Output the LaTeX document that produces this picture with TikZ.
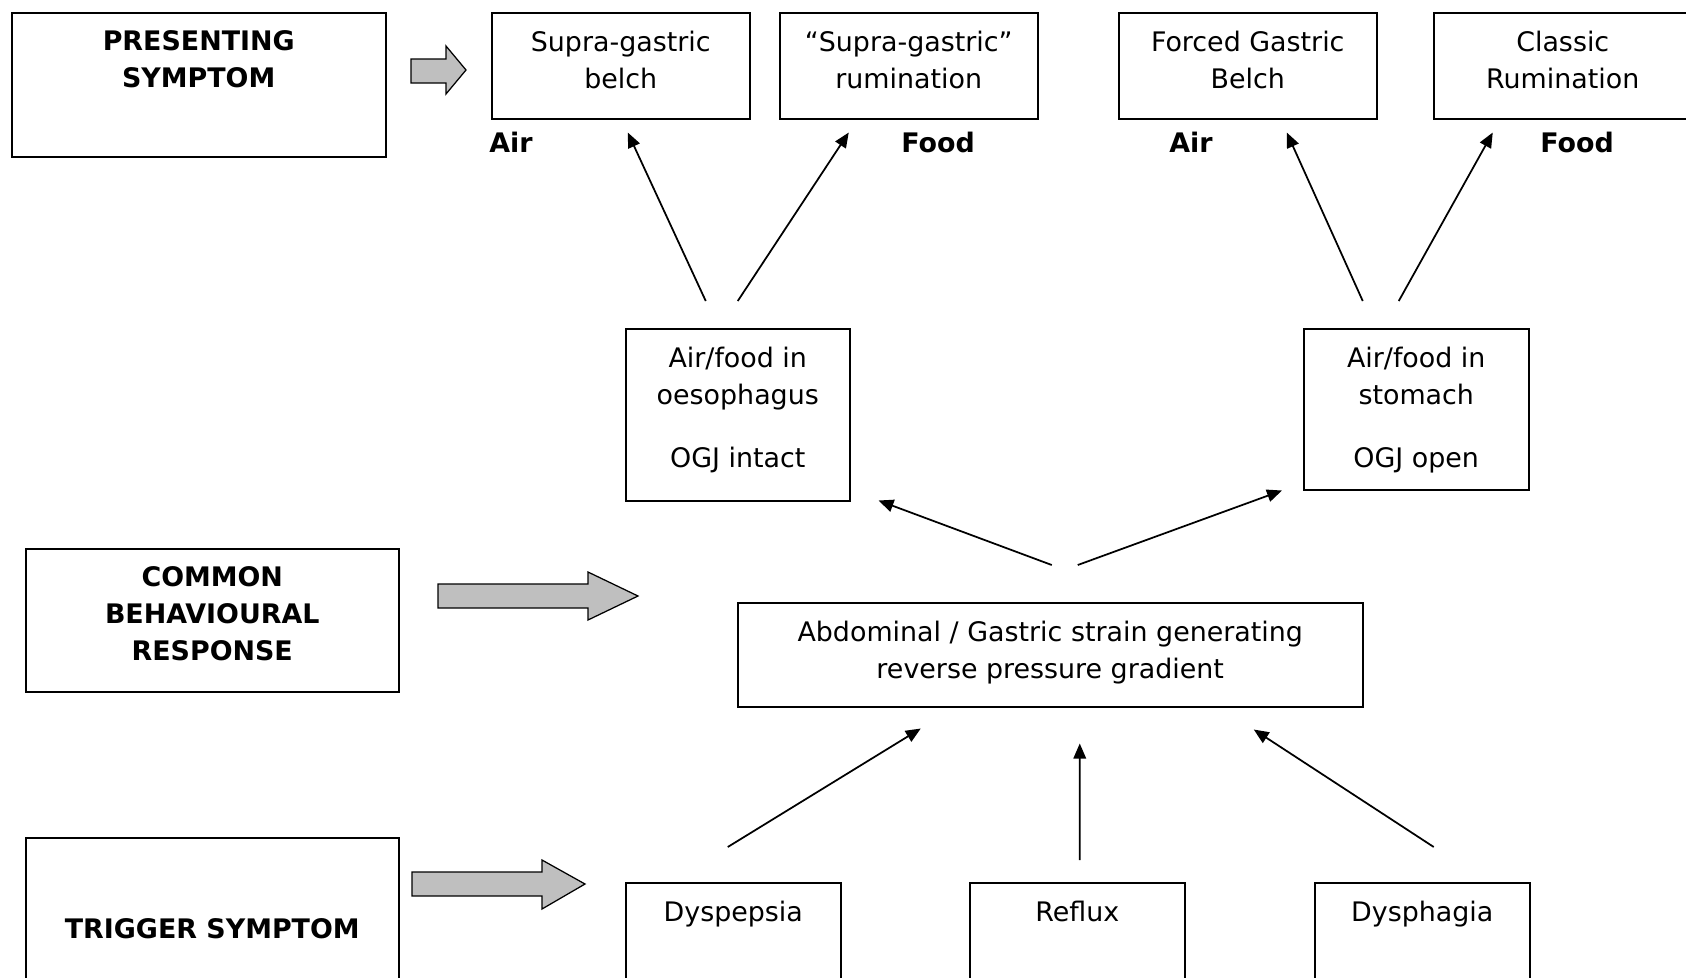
\documentclass[tikz,border=0pt]{standalone}
\usepackage{fontspec}
\setmainfont{DejaVu Sans}
\usetikzlibrary{arrows.meta,calc}
\definecolor{arrowgrey}{gray}{0.75}
\newcommand{\figfont}{\fontsize{15.3}{21}\selectfont}
\tikzset{
  fig/.style={font=\figfont},
  box/.style={draw,line width=0.3mm,anchor=north west,inner sep=0pt,
              minimum width=51.6mm,minimum height=21.2mm},
  txt/.style={font=\figfont,align=center,inner sep=0pt},
  toptxt/.style={label={[txt,anchor=north,yshift=-3.7mm]north:{#1}}},
  headtxt/.style={label={[txt,font=\figfont\bfseries,anchor=north,yshift=-3.6mm]north:{#1}}},
  tag/.style={font=\figfont\bfseries,inner sep=0pt},
  ln/.style={-{Triangle[length=3mm,width=2.5mm]},line width=0.35mm},
}

\begin{document}
\begin{tikzpicture}[fig,x=1mm,y=1mm,
  bigarr/.style={draw,line width=0.25mm,fill=arrowgrey,line join=miter}]

\useasboundingbox (0,0) rectangle (337.2,-195.4);

\node[box,minimum width=74.8mm,minimum height=28.8mm,headtxt={PRESENTING\\SYMPTOM}] (pres) at (2.2,-2.4) {};
\node[box,minimum width=74.6mm,minimum height=28.6mm,headtxt={COMMON\\BEHAVIOURAL\\RESPONSE}] (common) at (5,-109.6) {};
\node[box,minimum width=74.6mm,minimum height=36.4mm,font=\figfont\bfseries] (trig) at (5,-167.4) {TRIGGER SYMPTOM};

\draw[bigarr] (82.2,-11.8) -- (89.2,-11.8) -- (89.2,-9.2) -- (93.2,-14) -- (89.2,-18.8) -- (89.2,-16.6) -- (82.2,-16.6) -- cycle;
\draw[bigarr] (87.6,-116.8) -- (117.6,-116.8) -- (117.6,-114.4) -- (127.6,-119.2) -- (117.6,-124) -- (117.6,-121.6) -- (87.6,-121.6) -- cycle;
\draw[bigarr] (82.4,-174.4) -- (108.4,-174.4) -- (108.4,-172) -- (117,-176.8) -- (108.4,-181.8) -- (108.4,-179.2) -- (82.4,-179.2) -- cycle;

\node[box,toptxt={Supra-gastric\\belch}] (belch) at (98.2,-2.4) {};
\node[box,toptxt={“Supra-gastric”\\rumination}] (srum) at (155.8,-2.4) {};
\node[box,toptxt={Forced Gastric\\Belch}] (fgb) at (223.6,-2.4) {};
\node[box,toptxt={Classic\\Rumination}] (crum) at (286.6,-2.4) {};

\node[tag] (air1) at (102.2,-28.4) {Air};
\node[tag] (food1) at (187.6,-28.4) {Food};
\node[tag] (air2) at (238.2,-28.4) {Air};
\node[tag] (food2) at (315.4,-28.4) {Food};

\node[box,minimum width=44.8mm,minimum height=34.4mm,
      toptxt={Air/food in\\oesophagus\\[5.2mm]OGJ intact}] (oes) at (125,-65.6) {};
\node[box,minimum width=45mm,minimum height=32.2mm,
      toptxt={Air/food in\\stomach\\[5.2mm]OGJ open}] (sto) at (260.6,-65.6) {};

\node[box,minimum width=125mm,minimum height=20.8mm,
      toptxt={Abdominal / Gastric strain generating\\reverse pressure gradient}] (strain) at (147.4,-120.4) {};

\node[box,minimum width=43mm,minimum height=30mm,toptxt={Dyspepsia}] (dysp) at (125,-176.4) {};
\node[box,minimum width=43mm,minimum height=30mm,toptxt={Reflux}] (refl) at (193.8,-176.4) {};
\node[box,minimum width=43mm,minimum height=30mm,toptxt={Dysphagia}] (dysph) at (262.8,-176.4) {};

\draw[ln] ($(oes.north)+(-6.4,5.4)$) -- ($(belch.south)+(1.4,-2.6)$);
\draw[ln] ($(oes.north)+(0,5.4)$) -- ($(srum.south)+(-12,-2.6)$);
\draw[ln] ($(sto.north)+(-10.7,5.4)$) -- ($(fgb.south)+(7.8,-2.6)$);
\draw[ln] ($(sto.north)+(-3.5,5.4)$) -- ($(crum.south)+(-14,-2.6)$);

\draw[ln] ($(strain.north)+(0.3,7.4)$) -- ($(oes.south east)+(5.6,0.2)$);
\draw[ln] ($(strain.north)+(5.5,7.4)$) -- ($(sto.south west)+(-4.2,0)$);

\draw[ln] ($(dysp.north)+(-1.1,7)$) -- ($(strain.south)+(-25.9,-4.2)$);
\draw[ln] ($(refl.north)+(0.5,4.4)$) -- ($(strain.south)+(5.9,-7.2)$);
\draw[ln] ($(dysph.north)+(2.3,7)$) -- ($(strain.south)+(40.7,-4.4)$);

\end{tikzpicture}
\end{document}
